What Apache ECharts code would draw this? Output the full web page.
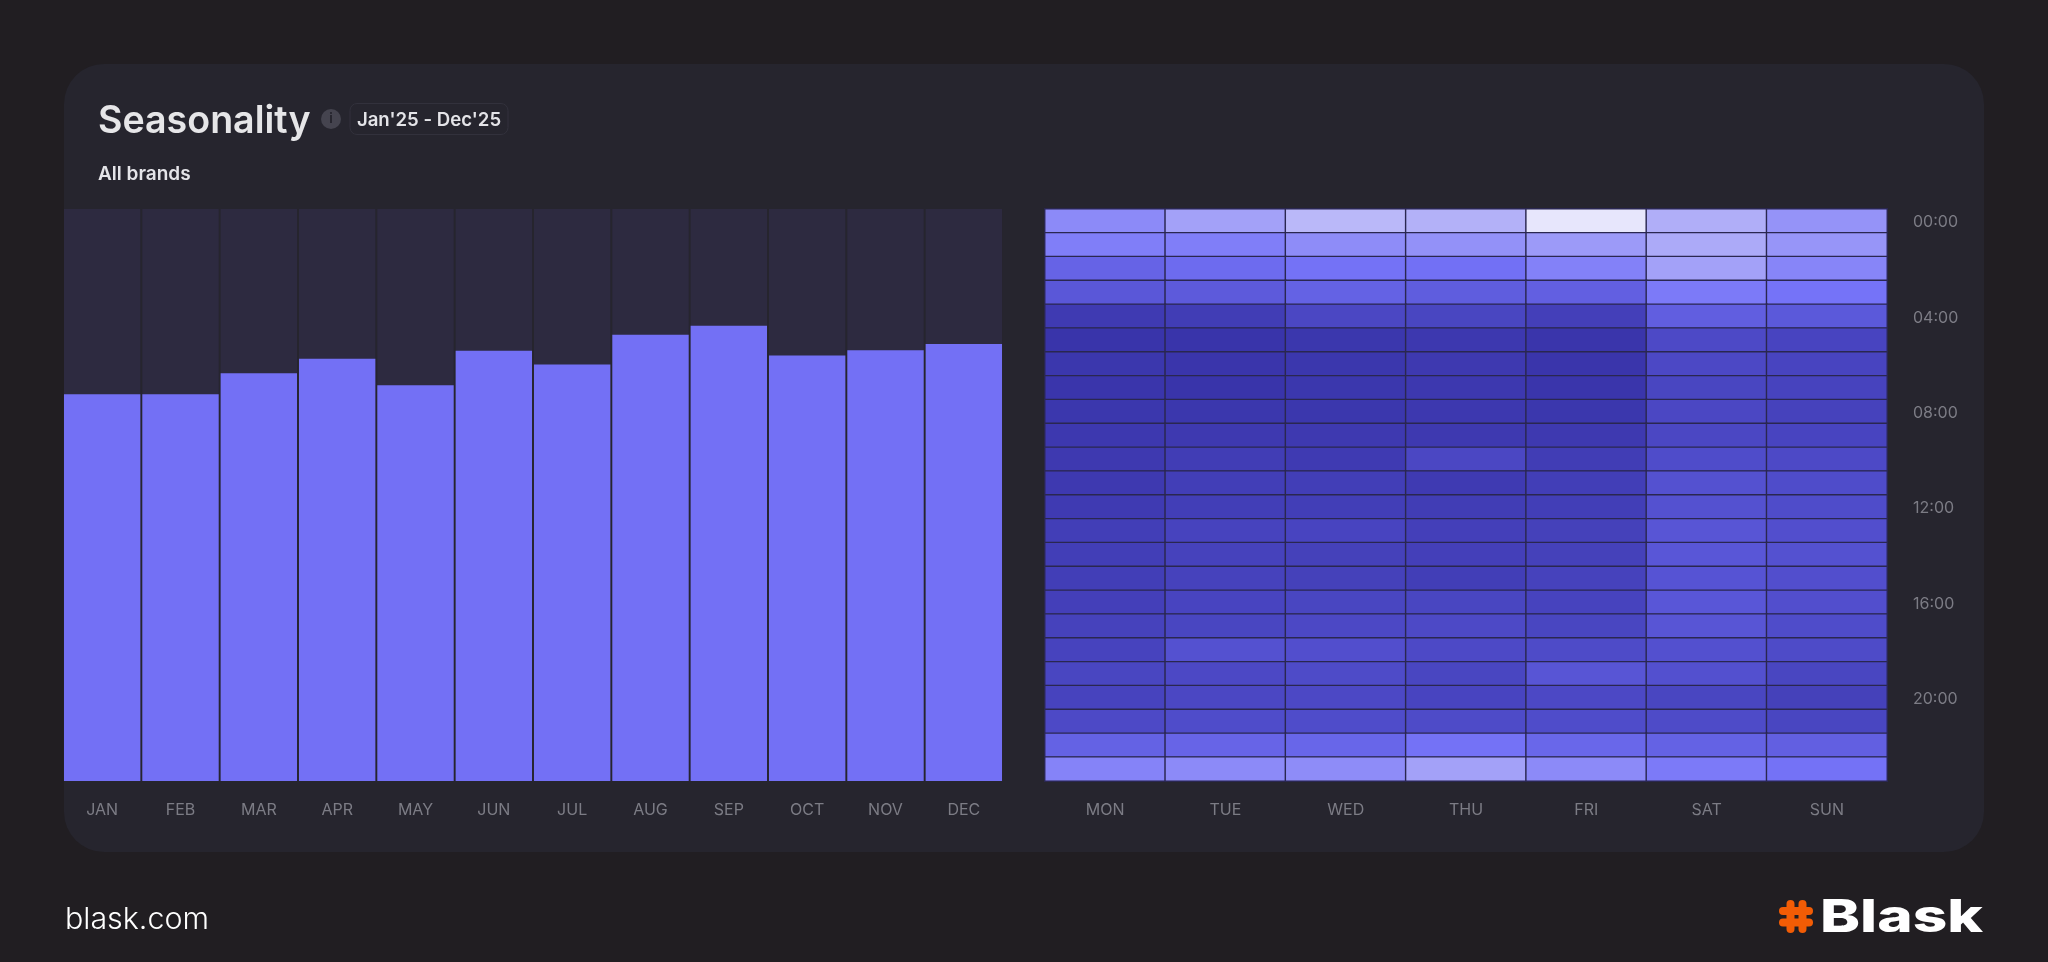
<!DOCTYPE html>
<html><head><meta charset="utf-8">
<style>html,body{margin:0;padding:0;background:#211e22}#c{width:2048px;height:962px}</style>
<script src="https://cdn.jsdelivr.net/npm/echarts@6/dist/echarts.min.js"></script>
</head><body><div id="c"></div>
<script>
const months = ['JAN','FEB','MAR','APR','MAY','JUN','JUL','AUG','SEP','OCT','NOV','DEC'];
const monthValues = [67.6,67.6,71.3,73.8,69.2,75.2,72.8,78,79.6,74.4,75.3,76.4];
const days = ['MON','TUE','WED','THU','FRI','SAT','SUN'];
const hours = ['00:00','01:00','02:00','03:00','04:00','05:00','06:00','07:00','08:00','09:00','10:00','11:00','12:00','13:00','14:00','15:00','16:00','17:00','18:00','19:00','20:00','21:00','22:00','23:00'];
const heatByHour = [
 [60,70,80,77,99,76,64],
 [55,55,61,63,67,74,65],
 [38,44,49,48,56,70,58],
 [29,31,37,33,35,53,50],
 [6,8,16,15,10,34,30],
 [1,1,3,4,2,18,14],
 [3,2,3,5,2,17,14],
 [2,1,3,4,2,15,13],
 [3,3,3,4,3,16,12],
 [4,5,5,5,5,16,14],
 [5,8,6,16,8,20,18],
 [5,9,9,6,9,24,20],
 [6,9,9,8,9,24,20],
 [9,13,14,10,11,27,22],
 [9,12,11,10,11,28,24],
 [9,12,11,9,12,26,22],
 [10,14,15,15,13,28,22],
 [12,15,17,18,15,27,20],
 [13,24,22,18,19,23,19],
 [15,17,19,15,27,23,15],
 [13,16,17,14,17,15,11],
 [18,20,20,19,20,19,15],
 [37,39,40,49,41,37,35],
 [57,60,61,70,60,53,49]
];
const heatColors = ['#3833A8','#5552D2','#7573F8','#AEACF8','#E9E8FC'];
const heatData = [];
heatByHour.forEach((row,h)=>row.forEach((v,d)=>heatData.push([d,h,v])));

const chart = echarts.init(document.getElementById('c'),null,{renderer:'canvas',width:2048,height:962});
const sans = 'Inter, "Noto Sans", sans-serif';
chart.setOption({
  backgroundColor:'#211e22',
  animation:false,
  graphic:[
    {type:'rect',z:-10,silent:true,shape:{x:64,y:64,width:1920,height:788,r:40},style:{fill:'#26252e'}},
    {type:'text',x:98,y:122,style:{text:'Seasonality',font:'600 37.6px '+sans,fill:'#e6e6e8',textVerticalAlign:'middle'}},
    {type:'circle',shape:{cx:331,cy:119,r:10},style:{fill:'#45444f'}},
    {type:'text',x:331,y:119,style:{text:'i',font:'700 13px '+sans,fill:'#26252e',textAlign:'center',textVerticalAlign:'middle'}},
    {type:'rect',shape:{x:350,y:103.5,width:158,height:31,r:7},style:{fill:'#26252e',stroke:'#32313c',lineWidth:1}},
    {type:'text',x:429,y:120,style:{text:"Jan'25 - Dec'25",font:'600 18.6px '+sans,fill:'#e4e4e8',textAlign:'center',textVerticalAlign:'middle'}},
    {type:'text',x:98,y:174,style:{text:'All brands',font:'600 19px '+sans,fill:'#e4e4e8',textVerticalAlign:'middle'}},
    {type:'text',x:65,y:920,style:{text:'blask.com',font:'300 30.4px '+sans,fill:'#ffffff',textVerticalAlign:'middle'}},
    {type:'line',shape:{x1:1790.5,y1:904,x2:1790.5,y2:929},style:{stroke:'#f25c05',lineWidth:8,lineCap:'round'}},
    {type:'line',shape:{x1:1802.5,y1:904,x2:1802.5,y2:929},style:{stroke:'#f25c05',lineWidth:8,lineCap:'round'}},
    {type:'line',shape:{x1:1783,y1:911,x2:1809,y2:911},style:{stroke:'#f25c05',lineWidth:8,lineCap:'round'}},
    {type:'line',shape:{x1:1783,y1:922.5,x2:1809,y2:922.5},style:{stroke:'#f25c05',lineWidth:8,lineCap:'round'}},
    {type:'text',x:1820,y:918,scaleX:1.34,style:{text:'Blask',font:'800 45px '+sans,fill:'#ffffff',textVerticalAlign:'middle'}}
  ],
  grid:[
    {left:63,top:209,width:940,height:572},
    {left:1045,top:209,width:842,height:572}
  ],
  xAxis:[
    {type:'category',gridIndex:0,data:months,axisLine:{show:false},axisTick:{show:false},splitLine:{show:false},
     axisLabel:{color:'#7c7c85',fontSize:16,fontFamily:sans,margin:21}},
    {type:'category',gridIndex:1,data:days,axisLine:{show:false},axisTick:{show:false},splitLine:{show:false},
     axisLabel:{color:'#7c7c85',fontSize:16,fontFamily:sans,margin:21}}
  ],
  yAxis:[
    {type:'value',gridIndex:0,min:0,max:100,show:false},
    {type:'category',gridIndex:1,data:hours,inverse:true,position:'right',axisLine:{show:false},axisTick:{show:false},splitLine:{show:false},
     axisLabel:{color:'#7c7c85',fontSize:16,fontFamily:sans,margin:26,interval:3,
       formatter:'{a|{value}}',rich:{a:{color:'#7c7c85',fontSize:16,fontFamily:sans,padding:[3,0,0,0]}}}}
  ],
  visualMap:{show:false,type:'continuous',seriesIndex:1,min:0,max:100,dimension:2,inRange:{color:heatColors}},
  series:[
    {type:'bar',xAxisIndex:0,yAxisIndex:0,data:monthValues,barCategoryGap:'2.5%',
     showBackground:true,backgroundStyle:{color:'#2d2a40'},itemStyle:{color:'#7370f5'},silent:true},
    {type:'heatmap',xAxisIndex:1,yAxisIndex:1,data:heatData,silent:true,
     itemStyle:{borderColor:'#2a2750',borderWidth:1.4},label:{show:false}}
  ]
});
</script></body></html>
